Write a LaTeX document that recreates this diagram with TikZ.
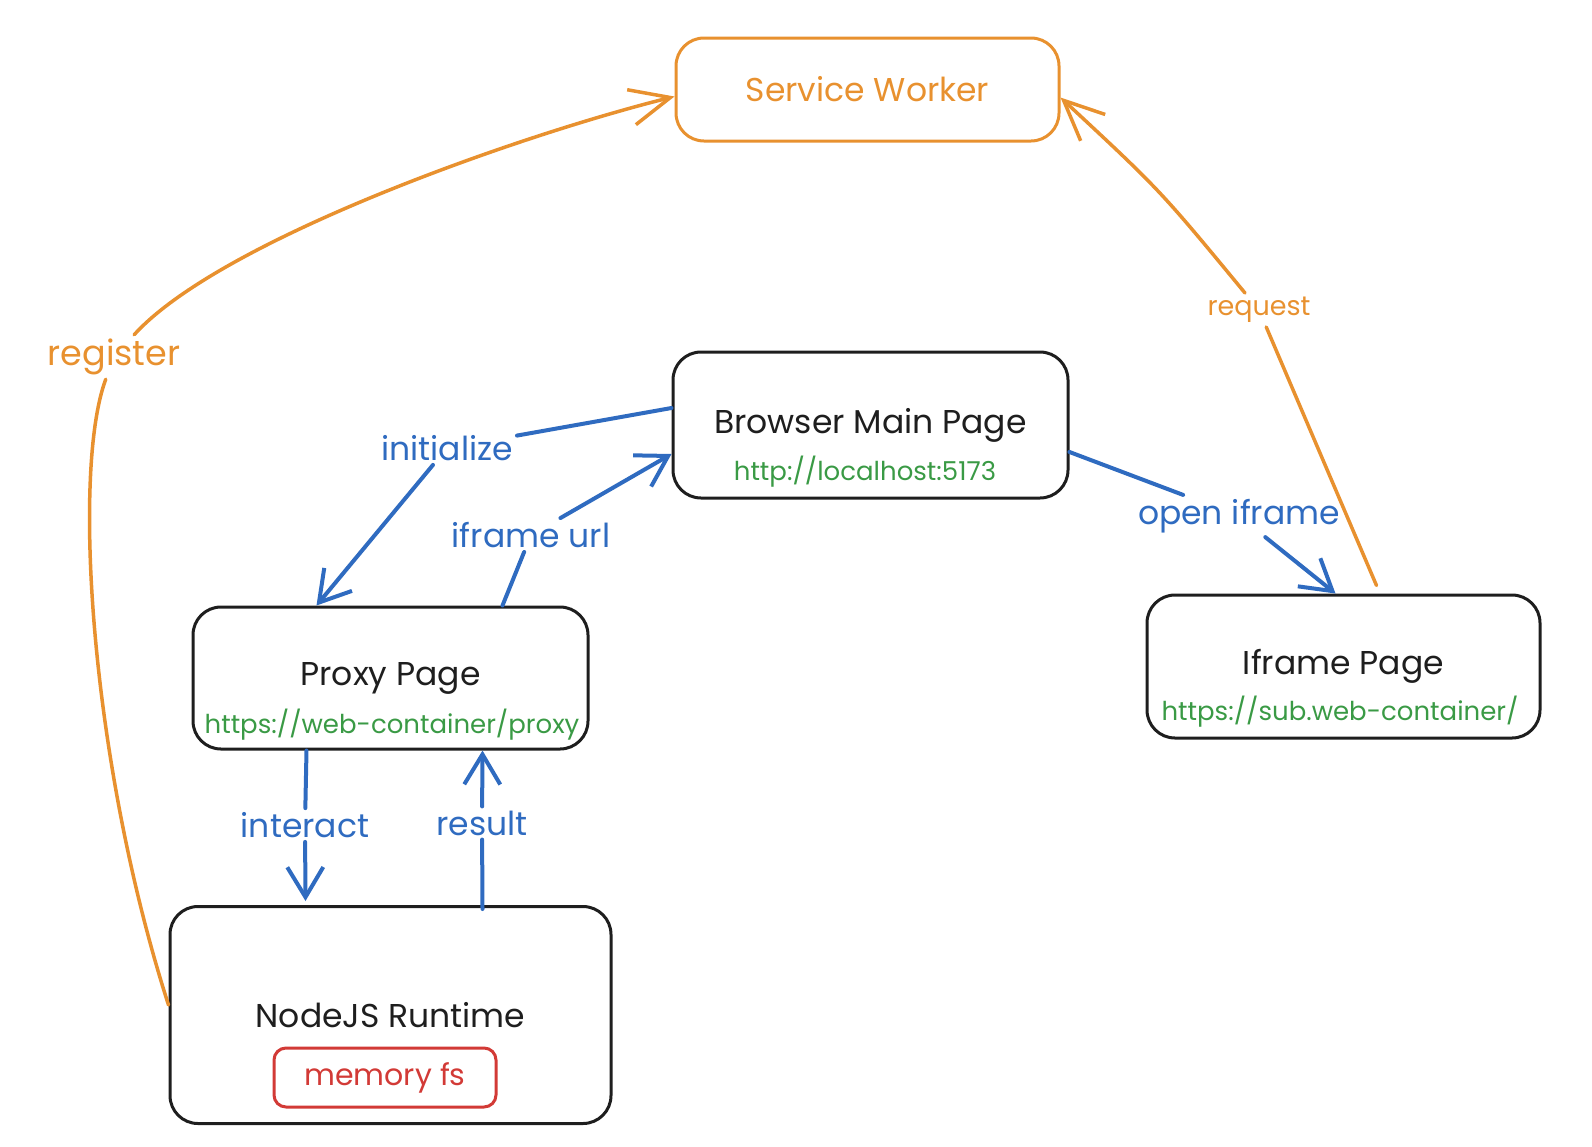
\documentclass[tikz,border=0pt]{standalone}
\usepackage{fontspec}
\setmainfont{Poppins}
\usetikzlibrary{arrows.meta}
\definecolor{swOrange}{HTML}{E8912F}
\definecolor{linkBlue}{HTML}{2F6BC0}
\definecolor{urlGreen}{HTML}{3A9A45}
\definecolor{fsRed}{HTML}{D23A36}
\definecolor{inkBlack}{HTML}{1E1E1E}

\begin{document}
\begin{tikzpicture}
[x=1pt,y=-1pt,%
  boxDecorate/.style={draw=inkBlack,line width=3pt,rounded corners=28pt,inner sep=0pt,text=inkBlack,font=\fontsize{33}{38}\selectfont},%
  urlDecorate/.style={inner sep=0pt,text=urlGreen,font=\fontsize{26}{30}\selectfont},%
  labelDecorate/.style={inner sep=4pt,text=linkBlue,font=\fontsize{33}{38}\selectfont},%
  lineDecorate/.style={linkBlue,line width=4pt,line cap=round,-{Straight Barb[length=30pt,width=36pt]}},%
  orangeDecorate/.style={swOrange,line width=3.5pt,line cap=round,-{Straight Barb[length=40pt,width=36pt]}}]
\useasboundingbox (0,0) rectangle (1592,1146);
%% boxes
\node[boxDecorate,draw=swOrange,text=swOrange,minimum width=383pt,minimum height=103pt] (sw) at (867.5,89.5) {Service Worker};
\node[boxDecorate,minimum width=395pt,minimum height=146pt] (bmp) at (870.5,425) {Browser Main Page};
\node[boxDecorate,minimum width=395pt,minimum height=142pt] (proxy) at (390.5,678) {Proxy Page};
\node[boxDecorate,minimum width=393pt,minimum height=143pt] (iframe) at (1343.5,666.5) {Iframe Page};
\node[boxDecorate,minimum width=441pt,minimum height=217pt] (nodejs) at (390.5,1015) {NodeJS Runtime};
\node[boxDecorate,draw=fsRed,text=fsRed,rounded corners=12pt,minimum width=222pt,minimum height=59pt,font=\fontsize{30}{34}\selectfont] (memfs) at (385,1077.5) {memory fs};
%% urls
\node[urlDecorate] (bmpUrl) at (865,472) {http://localhost:5173};
\node[urlDecorate] (proxyUrl) at (392,725) {https://web-container/proxy};
\node[urlDecorate] (iframeUrl) at (1340,712) {https://sub.web-container/};
%% connector labels
\node[labelDecorate,text=swOrange,font=\fontsize{35}{40}\selectfont] (lblReg) at (114,357) {register};
\node[labelDecorate,text=swOrange,font=\fontsize{27}{31}\selectfont] (lblReq) at (1259,310) {request};
\node[labelDecorate] (lblInit) at (447,448) {initialize};
\node[labelDecorate] (lblUrl) at (531,535) {iframe url};
\node[labelDecorate] (lblOpen) at (1239,516) {open iframe};
\node[labelDecorate] (lblInteract) at (305,825) {interact};
\node[labelDecorate] (lblResult) at (482,823) {result};
%% connectors
\draw[orangeDecorate] ([yshift=10pt]nodejs.west) .. controls (90,760) and (72,470) .. (lblReg)
  .. controls (220,240) and (520,135) .. ([yshift=-7pt]sw.west);
\draw[orangeDecorate] ([xshift=33pt,yshift=8pt]iframe.north) -- (lblReq)
  .. controls (1160,190) .. ([yshift=-8pt]sw.east);
\draw[lineDecorate] ([yshift=17pt]bmp.west) -- (lblInit) -- ([xshift=-74pt]proxy.north);
\draw[lineDecorate] ([xshift=112pt]proxy.north) -- (lblUrl) -- ([yshift=-29pt]bmp.west);
\draw[lineDecorate] ([yshift=-27pt]bmp.east) -- (lblOpen) -- ([xshift=-8pt]iframe.north);
\draw[lineDecorate] ([xshift=-84pt]proxy.south) -- (lblInteract) -- ([xshift=-85pt,yshift=4pt]nodejs.north);
\draw[lineDecorate] ([xshift=92pt,yshift=-4pt]nodejs.north) -- (lblResult) -- ([xshift=92pt]proxy.south);
\end{tikzpicture}
\end{document}
